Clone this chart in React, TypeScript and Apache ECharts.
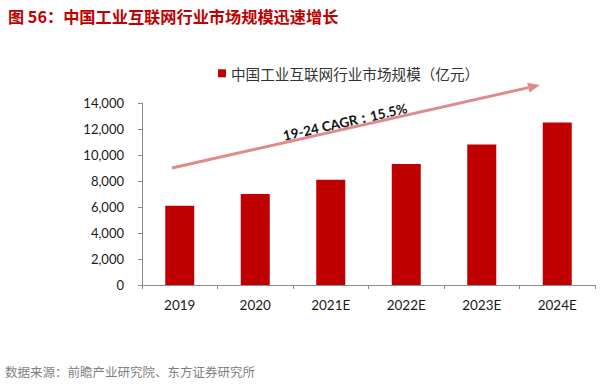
import React, { useEffect, useRef } from "react";
import * as echarts from "echarts";

const categories = ["2019", "2020", "2021E", "2022E", "2023E", "2024E"];
const marketSize = [6100, 7000, 8100, 9300, 10800, 12500];
const seriesName = "中国工业互联网行业市场规模（亿元）";
const titleText = "图 56：中国工业互联网行业市场规模迅速增长";
const sourceText = "数据来源：前瞻产业研究院、东方证券研究所";
const cagrText = "19-24 CAGR：15.5%";

export default function App() {
  const ref = useRef<HTMLDivElement>(null);
  useEffect(() => {
    if (!ref.current) return;
    const chart = echarts.init(ref.current, null, { renderer: "svg" });
    const tip = [540, 85];
    const start = [172, 168];
    const dx = tip[0] - start[0];
    const dy = tip[1] - start[1];
    const len = Math.sqrt(dx * dx + dy * dy);
    const ux = dx / len, uy = dy / len;
    const headLen = 12, headHalf = 5;
    const bx = tip[0] - headLen * ux, by = tip[1] - headLen * uy;
    const nx = -uy, ny = ux;
    const angle = Math.atan2(-dy, dx);
    chart.setOption({
      animation: false,
      backgroundColor: "#ffffff",
      title: {
        text: titleText,
        left: 3,
        top: 3,
        textStyle: {
          color: "#C00000",
          fontSize: 16.2,
          fontWeight: "bold",
          fontFamily: "Noto Sans CJK SC",
        },
      },
      legend: {
        data: [seriesName],
        left: 213,
        top: 61,
        itemWidth: 8,
        itemHeight: 8,
        itemGap: 6,
        icon: "rect",
        textStyle: {
          color: "#333333",
          fontSize: 14.6,
          fontFamily: "Noto Sans CJK SC",
        },
      },
      grid: {
        left: 142,
        right: 5,
        top: 103,
        bottom: 104,
        containLabel: false,
      },
      xAxis: {
        type: "category",
        data: categories,
        axisLine: { show: true, lineStyle: { color: "#8c8c8c", width: 1 } },
        axisTick: { show: true, alignWithLabel: false, length: 4, lineStyle: { color: "#8c8c8c" } },
        axisLabel: {
          color: "#1a1a1a",
          fontSize: 13.5,
          fontFamily: "Lato",
          margin: 13,
        },
      },
      yAxis: {
        type: "value",
        min: 0,
        max: 14000,
        interval: 2000,
        axisLine: { show: true, lineStyle: { color: "#8c8c8c", width: 1 } },
        axisTick: { show: true, length: 4, inside: false, lineStyle: { color: "#8c8c8c" } },
        splitLine: { show: false },
        axisLabel: {
          color: "#1a1a1a",
          fontSize: 13,
          fontFamily: "Lato",
          margin: 18,
          formatter: (v: number) => v.toLocaleString("en-US"),
        },
      },
      series: [
        {
          name: seriesName,
          type: "bar",
          data: marketSize,
          barWidth: 29,
          itemStyle: { color: "#C00000" },
        },
      ],
      graphic: [
        {
          type: "line",
          shape: { x1: start[0], y1: start[1], x2: bx, y2: by },
          style: { stroke: "#E08A8A", lineWidth: 3 },
          z: 10,
        },
        {
          type: "polygon",
          shape: {
            points: [
              [tip[0], tip[1]],
              [bx + headHalf * nx, by + headHalf * ny],
              [bx - headHalf * nx, by - headHalf * ny],
            ],
          },
          style: { fill: "#E08A8A" },
          z: 10,
        },
        {
          type: "text",
          x: 345,
          y: 122,
          rotation: angle,
          style: {
            text: cagrText,
            fill: "#111111",
            font: "bold 13.5px Lato",
            align: "center",
            verticalAlign: "middle",
          },
          z: 11,
        },
        {
          type: "text",
          x: 5,
          y: 371,
          style: {
            text: sourceText,
            fill: "#7f7f7f",
            font: "12.5px 'Noto Sans CJK SC'",
            verticalAlign: "middle",
          },
        },
      ],
    });
    return () => chart.dispose();
  }, []);
  return <div ref={ref} style={{ width: 600, height: 389, position: "absolute", left: 0, top: 0 }} />;
}
